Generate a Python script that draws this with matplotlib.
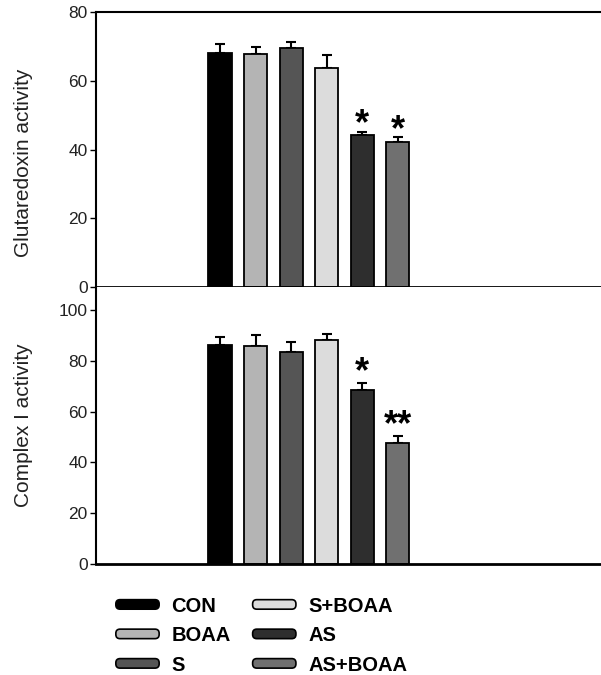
import numpy as np
import matplotlib.pyplot as plt
from matplotlib.patches import Patch, FancyBboxPatch
from matplotlib.legend_handler import HandlerPatch

plt.rcParams['font.family'] = ['Liberation Sans', 'DejaVu Sans']

groups = ['CON', 'BOAA', 'S', 'S+BOAA', 'AS', 'AS+BOAA']
colors = ['#000000', '#b4b4b4', '#555555', '#dcdcdc', '#2e2e2e', '#707070']

grx_mean = [68.0, 67.8, 69.4, 63.6, 44.3, 42.3]
grx_err = [2.6, 2.1, 2.0, 3.8, 0.9, 1.3]
grx_marks = ['', '', '', '', '*', '*']

c1_mean = [86.2, 85.8, 83.6, 88.2, 68.5, 47.5]
c1_err = [3.3, 4.2, 3.7, 2.2, 2.9, 3.0]
c1_marks = ['', '', '', '', '*', '**']


class HandlerRound(HandlerPatch):
    # flat bar with rounded ends, like the original legend keys
    def create_artists(self, legend, orig_handle, xdescent, ydescent,
                       width, height, fontsize, trans):
        p = FancyBboxPatch((-xdescent, -ydescent), width, height,
                           boxstyle='round,pad=0,rounding_size=3')
        self.update_prop(p, orig_handle, legend)
        p.set_transform(trans)
        return [p]


fig = plt.figure(figsize=(6.01, 6.75), dpi=100)
ax1 = fig.add_axes([0.160, 0.5748, 0.862, 0.4074])
ax2 = fig.add_axes([0.160, 0.1644, 0.862, 0.4104])

x = np.arange(len(groups))


def draw_panel(ax, mean, err, marks, ylim, yticks, label, label_y, mark_pad):
    ax.bar(x, mean, width=0.65, color=colors, edgecolor='black', linewidth=1.3, zorder=2)
    ax.errorbar(x, mean, yerr=[np.zeros(len(err)), err], fmt='none', ecolor='black',
                elinewidth=1.5, capsize=3.5, capthick=1.5, zorder=1)
    for xi, m, e, s in zip(x, mean, err, marks):
        if s:
            ax.text(xi, m + e + mark_pad, s, ha='center', va='center',
                    fontsize=26, fontweight='bold')
    ax.set_xlim(-3.48, 11.08)
    ax.set_ylim(*ylim)
    ax.set_yticks(yticks)
    ax.set_xticks([])
    ax.spines['right'].set_visible(False)
    ax.spines['left'].set_linewidth(1.5)
    ax.spines['bottom'].set_linewidth(2)
    ax.spines['top'].set_linewidth(1.5)
    ax.tick_params(axis='y', direction='out', length=4, width=1, labelsize=12.5,
                   pad=2, labelcolor='#222222')
    ax.set_ylabel(label, fontsize=15, color='#222222')
    ax.yaxis.set_label_coords(-0.122, label_y)


draw_panel(ax1, grx_mean, grx_err, grx_marks, (0, 80), [0, 20, 40, 60, 80],
           'Glutaredoxin activity', 0.45, 2.0)
draw_panel(ax2, c1_mean, c1_err, c1_marks, (0, 109), [0, 20, 40, 60, 80, 100],
           'Complex I activity', 0.5, 4.0)
ax2.spines['top'].set_visible(False)

handles = [Patch(facecolor=c, edgecolor='black', linewidth=1.2) for c in colors]
fig.legend(handles, groups, ncol=2, loc='upper left', bbox_to_anchor=(0.176, 0.131),
           frameon=False, handlelength=2.15, handleheight=0.35, handletextpad=0.6,
           columnspacing=1.1, labelspacing=0.52, borderpad=0,
           handler_map={Patch: HandlerRound()},
           prop={'weight': 'bold', 'size': 14.5})

fig.savefig('out.png', dpi=100)
